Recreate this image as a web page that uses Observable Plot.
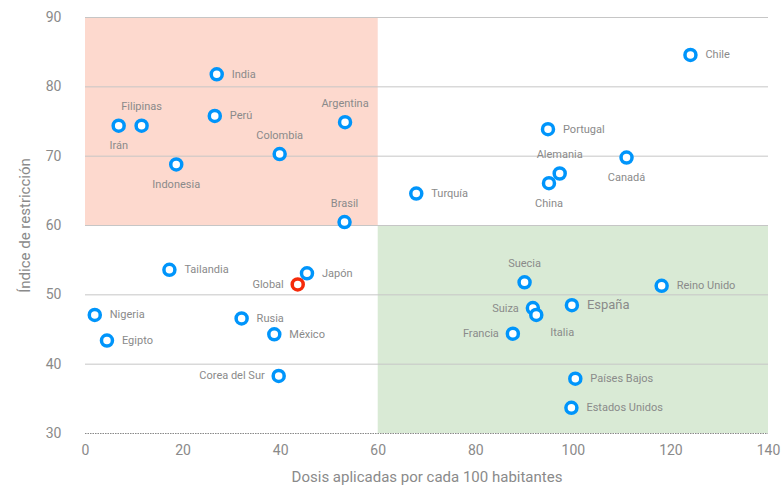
<!DOCTYPE html>
<html>
<head>
<meta charset="utf-8">
<script src="https://cdn.jsdelivr.net/npm/d3@7"></script>
<script src="https://cdn.jsdelivr.net/npm/@observablehq/plot@0.6"></script>
<style>
  html, body { margin: 0; padding: 0; background: #fff; }
  #chart svg { display: block; }
</style>
</head>
<body>
<div id="chart"></div>
<script>
const countries = ["India","Filipinas","Irán","Perú","Indonesia","Colombia","Argentina","Brasil",
  "Chile","Portugal","Alemania","China","Canadá","Turquía",
  "Tailandia","Japón","Global","Nigeria","Egipto","Rusia","México","Corea del Sur",
  "Suecia","Reino Unido","España","Suiza","Italia","Francia","Países Bajos","Estados Unidos"];
const dosis = [26.9, 11.5, 6.8, 26.5, 18.6, 39.8, 53.2, 53.1,
  124.0, 94.8, 97.2, 95.0, 110.9, 67.8,
  17.2, 45.4, 43.5, 1.9, 4.4, 32.0, 38.7, 39.6,
  90.0, 118.1, 99.7, 91.7, 92.4, 87.6, 100.4, 99.6];
const indice = [81.8, 74.4, 74.4, 75.8, 68.8, 70.3, 74.9, 60.5,
  84.6, 73.9, 67.5, 66.1, 69.8, 64.6,
  53.6, 53.1, 51.5, 47.1, 43.4, 46.6, 44.3, 38.3,
  51.8, 51.3, 48.5, 48.1, 47.1, 44.4, 37.9, 33.7];
const labelSide = ["right","top","bottom","right","bottom","top","top","top",
  "right","right","top","bottom","bottom","right",
  "right","right","left","right","right","right","right","left",
  "top","right","right","left","belowright","left","right","right"];
const xTicks = [0, 20, 40, 60, 80, 100, 120, 140];
const yTicks = [30, 40, 50, 60, 70, 80, 90];
const xTitle = "Dosis aplicadas por cada 100 habitantes";
const yTitle = "Índice de restricción";
const zones = [
  {x1: 0, x2: 60, y1: 60, y2: 90},
  {x1: 60, x2: 140, y1: 30, y2: 60}
];

const data = countries.map((c, i) => ({pais: c, x: dosis[i], y: indice[i], side: labelSide[i], global: c === "Global"}));
const by = s => data.filter(d => d.side === s);
const font = "Roboto, 'DejaVu Sans', sans-serif";
const grey = "#8a8a8a";
const labelStyle = {fill: grey, fontSize: 11, fontFamily: font};

const chart = Plot.plot({
  width: 784,
  height: 485,
  marginLeft: 85,
  marginRight: 16,
  marginTop: 17,
  marginBottom: 52,
  style: {fontFamily: font, color: grey, background: "#fff"},
  x: {domain: [0, 140]},
  y: {domain: [30, 90]},
  marks: [
    Plot.rect(zones.slice(0, 1), {x1: "x1", x2: "x2", y1: "y1", y2: "y2", fill: "#fdd9ce"}),
    Plot.rect(zones.slice(1), {x1: "x1", x2: "x2", y1: "y1", y2: "y2", fill: "#d9ead5"}),
    Plot.ruleY(yTicks.filter(t => t > 30), {stroke: "#c6c6c6", strokeWidth: 1}),
    Plot.ruleY([30], {stroke: "#6a6a6a", strokeWidth: 0.8, strokeDasharray: "1.5,1"}),
    Plot.axisX({ticks: xTicks, tickSize: 0, tickPadding: 12, fontSize: 14, label: null}),
    Plot.axisY({ticks: yTicks, tickSize: 0, tickPadding: 24, fontSize: 14, label: null}),
    Plot.axisX({ticks: [], fontSize: 15, label: xTitle, labelAnchor: "center", labelArrow: "none", labelOffset: 48}),
    Plot.axisY({ticks: [], fontSize: 15, label: yTitle, labelAnchor: "center", labelArrow: "none", labelOffset: 66}),
    Plot.dot(data, {x: "x", y: "y", r: 5.5, fill: "white", stroke: d => d.global ? "#f52a0a" : "#0095fb", strokeWidth: 3.5}),
    Plot.text(by("right"), {x: "x", y: "y", text: "pais", textAnchor: "start", dx: 15, ...labelStyle, fontSize: d => d.pais === "España" ? 13 : 11}),
    Plot.text(by("left"), {x: "x", y: "y", text: "pais", textAnchor: "end", dx: -14, ...labelStyle}),
    Plot.text(by("top"), {x: "x", y: "y", text: "pais", textAnchor: "middle", dy: -19, ...labelStyle}),
    Plot.text(by("bottom"), {x: "x", y: "y", text: "pais", textAnchor: "middle", dy: 20, ...labelStyle}),
    Plot.text(by("belowright"), {x: "x", y: "y", text: "pais", textAnchor: "start", dx: 14, dy: 18, ...labelStyle})
  ]
});
document.getElementById("chart").appendChild(chart);
</script>
</body>
</html>
